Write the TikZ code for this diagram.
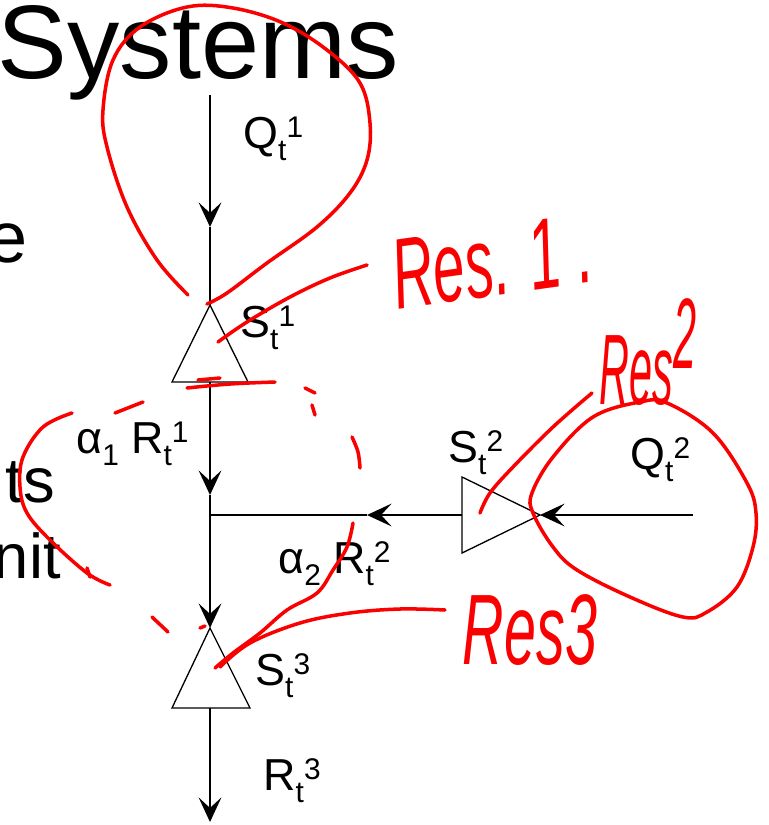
\documentclass[tikz,border=0pt]{standalone}
\usepackage{fontspec}
\setmainfont{Liberation Sans}
\usetikzlibrary{arrows.meta,calc}
\definecolor{inkred}{RGB}{250,0,0}
\definecolor{slideink}{RGB}{0,0,0}

% PowerPoint-style sub/superscripts (side by side, not stacked)
\newcommand\lbsub[1]{\raisebox{-7pt}{\fontsize{17}{17}\selectfont #1}}
\newcommand\lbsup[1]{\raisebox{6pt}{\fontsize{17}{17}\selectfont #1}}

\begin{document}
\begin{tikzpicture}[x=0.02cm, y=-0.02cm,
  plain/.style={slideink, line width=0.75pt},
  flow/.style={plain, -{Stealth[length=14pt, width=13pt, inset=6pt]}},
  varlabel/.style={anchor=base west, inner sep=0pt, font=\fontsize{25.5}{30}\selectfont},
  slidetext/.style={anchor=base east, inner sep=0pt},
  ink/.style={inkred, line width=2pt, line cap=round, line join=round},
  inktext/.style={inkred, inner sep=0pt, font=\fontsize{38}{40}\selectfont\itshape}]

\useasboundingbox (0,0) rectangle (768,825);
\clip (0,0) rectangle (768,825);

%% ── SLIDE TEXT (cut off at the left edge) ────────────────────────────────
\node[slidetext, font=\fontsize{59.5}{62}\selectfont] (title) at (399,78) {Systems};
\node[slidetext, font=\fontsize{41}{44}\selectfont] (frage) at (28,262) {e};
\node[slidetext, font=\fontsize{36}{40}\selectfont] (fragts) at (55,502) {ts};
\node[slidetext, font=\fontsize{36}{40}\selectfont] (fragnit) at (61,578) {nit};

%% ── RESERVOIR NETWORK ────────────────────────────────────────────────────
% main stem
\coordinate (q1in)   at (210,95);
\coordinate (q1tip)  at (210,227);
\coordinate (s1apex) at (210,305);
\coordinate (s1out)  at (210,382);
\coordinate (r1tip)  at (210,495);
\coordinate (junc)   at (210,515);
\coordinate (s3apex) at (210,628);
\coordinate (s3out)  at (210,708);
\coordinate (r3tip)  at (210,822);
% side branch
\coordinate (q2in)   at (693,515);
\coordinate (s2apex) at (540,515);
\coordinate (s2out)  at (462,515);
\coordinate (r2tip)  at (367,515);

% reservoirs (triangles)
\draw[plain, line join=miter] (s1apex) -- (172,382) -- (248,382) -- cycle;
\draw[plain, line join=miter] (s3apex) -- (172,708) -- (250,708) -- cycle;
\draw[plain, line join=miter] (s2apex) -- (462,477) -- (462,553) -- cycle;

% flows
\draw[flow]  (q1in) -- (q1tip);
\draw[plain] (q1tip) -- (s1apex);
\draw[flow]  (s1out) -- (r1tip);
\draw[plain] (r1tip) -- (junc);
\draw[flow]  (junc) -- (s3apex);
\draw[flow]  (s3out) -- (r3tip);
\draw[flow]  (q2in) -- (s2apex);
\draw[flow]  (s2out) -- (r2tip);
\draw[plain, line width=1.5pt] (r2tip) -- (junc);

% variable labels
\node[varlabel] (q1lab) at (243,148) {Q\lbsub{t}\lbsup{1}};
\node[varlabel] (s1lab) at (240,337) {S\lbsub{t}\lbsup{1}};
\node[varlabel] (r1lab) at (76,453)  {α\lbsub{1} R\lbsub{t}\lbsup{1}};
\node[varlabel] (s2lab) at (448,462) {S\lbsub{t}\lbsup{2}};
\node[varlabel] (q2lab) at (630,469) {Q\lbsub{t}\lbsup{2}};
\node[varlabel] (r2lab) at (278,573) {α\lbsub{2} R\lbsub{t}\lbsup{2}};
\node[varlabel] (s3lab) at (255,685) {S\lbsub{t}\lbsup{3}};
\node[varlabel] (r3lab) at (263,790) {R\lbsub{t}\lbsup{3}};

%% ── RED PEN NOTES ────────────────────────────────────────────────────────
% Res. 1 loop round the inflow
\draw[ink] plot[smooth, tension=0.6] coordinates {
  (188,295) (157,260) (127,207) (107,147) (103,110) (113,60) (140,27)
  (187,7) (233,8) (283,23) (327,50) (360,83) (370,123) (367,160)
  (350,193) (317,227) (267,263) (227,293) (207,304)};
\draw[ink] plot[smooth, tension=0.6] coordinates {
  (218,342) (247,322) (290,297) (330,278) (367,265)};
\node[inktext, rotate=8] (res1) at (492,262) {\scalebox{0.85}[1.5]{Res. 1 .}};

% dashed ring round the junction
\foreach \ax/\ay/\bx/\by in {115/413/143/402, 305/388/315/393,
    312/405/315/415, 152/617/168/632, 200/628/205/626}{
  \draw[ink] (\ax,\ay) -- (\bx,\by);
}
\draw[ink] plot[smooth, tension=0.6] coordinates {(187,388) (230,384) (275,382)};
\draw[ink] (198,380) -- (220,378);
\draw[ink] plot[smooth, tension=0.6] coordinates {(352,437) (358,452) (360,468)};
\draw[ink] plot[smooth, tension=0.6] coordinates {
  (72,413) (43,427) (23,457) (20,487) (27,513) (50,540) (87,573) (110,585)};
\draw[ink] (87,568) -- (90,577);

% Res 2 loop round the side inflow
\draw[ink] plot[smooth cycle, tension=0.6] coordinates {
  (533,513) (553,547) (577,570) (630,597) (683,617) (707,612) (737,587)
  (753,547) (756,513) (747,483) (713,433) (667,403) (640,402) (593,417)
  (553,457) (532,493)};
\draw[ink] plot[smooth, tension=0.6] coordinates {
  (480,513) (490,493) (513,467) (553,427) (592,393)};
\node[inktext] (res2) at (648,352) {\scalebox{0.62}[1.5]{Res\raisebox{0.35em}{2}}};

% Res3 pointers
\draw[ink] plot[smooth, tension=0.6] coordinates {
  (353,523) (347,547) (333,570) (317,593) (287,610) (260,633) (233,653) (215,668)};
\draw[ink] plot[smooth, tension=0.6] coordinates {
  (220,667) (250,643) (300,623) (350,613) (400,609) (445,610)};
\node[inktext] (res3) at (530,630) {\scalebox{0.86}[1.5]{Res3}};

\end{tikzpicture}
\end{document}
